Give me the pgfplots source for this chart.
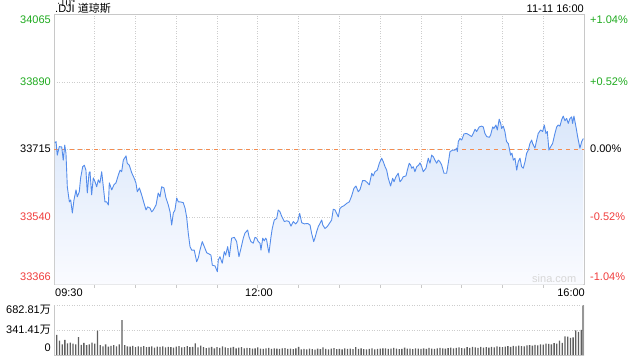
\documentclass[border=0pt]{standalone}
\usepackage{fontspec}
\setmainfont{Liberation Sans}
\newfontfamily\cjk{Noto Sans CJK SC}
\usepackage{pgfplots}
\pgfplotsset{compat=1.18}
\usepackage{pgfplotstable}
\definecolor{lineblue}{RGB}{84,140,235}
\definecolor{fillblue}{RGB}{218,231,250}
\definecolor{fillbot}{RGB}{250,251,255}
\definecolor{gridgray}{RGB}{205,205,205}
\definecolor{framegray}{RGB}{200,200,200}
\definecolor{upgreen}{RGB}{30,170,30}
\definecolor{downred}{RGB}{240,60,60}
\definecolor{refor}{RGB}{245,140,80}
\definecolor{volgray}{RGB}{95,95,95}
\definecolor{wmark}{RGB}{215,215,215}

\pgfplotstableread{
m p
0.7 33733
1.5 33736
2.4 33701
3.9 33723
5.7 33722
6.8 33688
7.9 33727
8.8 33706
9.8 33619
11.3 33580
12.3 33585
13.5 33551
14.7 33585
16.2 33611
17.1 33593
18.6 33606
19.6 33642
21.1 33671
22.3 33675
23.5 33662
24.5 33603
25.8 33655
26.5 33658
27.7 33598
28.9 33642
30.2 33632
31.4 33619
32.6 33637
33.8 33629
35.1 33658
36.3 33619
37.5 33580
38.8 33580
40.0 33572
40.7 33629
42.5 33611
44.1 33624
45.6 33629
47.3 33649
48.6 33662
49.8 33658
51.0 33688
53.0 33699
53.9 33680
55.4 33675
57.2 33655
58.9 33642
60.3 33629
61.3 33606
62.8 33616
64.5 33598
66.2 33577
67.7 33559
68.9 33567
70.6 33564
71.9 33554
73.1 33559
75.1 33572
76.7 33603
78.0 33593
79.2 33619
80.9 33616
82.4 33590
84.1 33572
85.4 33554
86.6 33520
87.8 33551
89.0 33559
90.3 33590
91.5 33580
92.7 33580
95.1 33578
96.4 33564
97.6 33541
98.8 33499
100.1 33464
101.3 33455
103.2 33455
105.0 33425
106.2 33435
107.4 33455
109.1 33477
110.6 33464
112.4 33448
114.1 33445
115.5 33442
116.5 33416
118.5 33414
120.2 33399
120.9 33429
122.1 33438
123.8 33421
125.3 33451
126.3 33442
127.8 33464
129.0 33438
130.7 33486
132.7 33488
134.4 33477
136.1 33438
137.6 33460
139.3 33486
140.5 33499
142.5 33507
143.5 33490
144.9 33477
146.6 33473
147.9 33488
149.1 33486
150.3 33477
151.6 33473
152.3 33455
153.6 33486
154.7 33479
155.8 33486
156.5 33481
157.7 33455
158.2 33448
159.7 33490
160.6 33511
162.1 33533
163.9 33537
165.0 33559
166.3 33554
167.5 33543
169.5 33529
171.2 33531
172.9 33529
174.4 33517
176.1 33529
177.8 33523
179.3 33529
180.8 33550
182.3 33526
184.2 33523
186.7 33524
188.4 33520
189.6 33498
191.1 33477
192.0 33486
193.3 33503
194.5 33516
197.0 33533
197.8 33520
199.4 33511
201.1 33516
202.6 33524
204.3 33533
205.5 33561
206.8 33559
208.0 33550
209.2 33541
210.4 33563
211.7 33567
213.4 33570
215.4 33576
217.3 33580
219.0 33595
220.7 33615
222.2 33621
223.9 33606
225.2 33612
227.1 33635
228.8 33635
230.5 33630
232.0 33624
233.8 33654
234.9 33647
236.2 33658
237.9 33662
239.4 33680
241.1 33693
242.3 33684
243.6 33671
244.8 33662
246.0 33641
247.7 33621
249.2 33641
250.2 33632
251.6 33645
253.3 33654
254.6 33632
255.8 33637
257.0 33645
259.0 33647
260.0 33662
261.4 33680
262.5 33675
263.2 33667
264.4 33671
265.6 33658
266.9 33671
268.3 33675
269.3 33681
270.6 33671
271.7 33658
273.7 33667
275.4 33693
276.7 33680
277.9 33701
279.1 33697
280.3 33688
281.6 33680
282.8 33688
284.0 33684
285.3 33675
287.0 33654
288.9 33654
290.1 33680
291.4 33710
293.4 33714
295.1 33714
296.3 33719
296.8 33710
297.5 33736
298.7 33744
300.0 33740
301.7 33756
303.7 33757
305.6 33753
307.3 33749
308.5 33757
309.8 33768
311.0 33762
312.9 33774
314.7 33776
315.9 33774
317.1 33757
318.4 33749
320.3 33747
321.3 33753
322.8 33774
323.7 33770
325.2 33779
326.2 33766
327.6 33794
328.7 33783
329.4 33770
330.6 33776
331.8 33762
333.0 33736
334.3 33731
335.0 33719
336.0 33701
337.0 33706
338.0 33688
339.2 33693
340.5 33662
341.6 33684
342.9 33693
344.1 33671
345.3 33667
346.6 33684
347.8 33706
349.0 33714
350.2 33731
351.5 33740
352.2 33731
353.9 33719
355.2 33740
356.3 33757
358.1 33766
359.6 33762
360.8 33779
362.0 33757
363.0 33762
364.2 33714
365.5 33723
366.9 33731
368.6 33757
369.9 33774
371.0 33779
372.3 33776
373.5 33792
374.7 33802
376.0 33790
377.2 33796
378.4 33783
379.7 33796
380.9 33800
381.6 33783
382.6 33802
384.1 33774
385.3 33749
387.0 33719
388.3 33736
389.5 33744
}\pricedata

\pgfplotstableread{
m v
2 278
4 200
6 150
8 210
10 165
12 175
14 160
16 150
18 250
20 145
22 170
24 140
26 150
28 175
30 160
32 335
34 140
36 125
38 150
40 120
42 130
44 140
46 125
48 150
50 480
52 140
54 125
56 120
58 130
60 112
62 122
64 118
66 128
68 112
70 118
72 125
74 108
76 120
78 115
80 124
82 110
84 118
86 112
88 108
90 120
92 126
94 110
96 114
98 128
100 112
102 118
104 165
106 110
108 135
110 112
112 100
114 108
116 118
118 96
120 112
122 104
124 122
126 110
128 100
130 106
132 115
134 98
136 108
138 112
140 96
142 104
144 100
146 92
148 98
150 110
152 94
154 88
156 96
158 102
160 90
162 96
164 92
166 88
168 95
170 100
172 88
174 92
176 85
178 96
180 118
182 82
184 88
186 84
188 92
190 86
192 80
194 94
196 86
198 110
200 88
202 84
204 92
206 100
208 86
210 90
212 84
214 96
216 88
218 92
220 86
222 114
224 90
226 98
228 86
230 82
232 90
234 96
236 84
238 88
240 92
242 96
244 98
246 88
248 94
250 102
252 92
254 86
256 90
258 108
260 94
262 92
264 86
266 96
268 92
270 90
272 98
274 88
276 102
278 94
280 90
282 96
284 104
286 98
288 92
290 100
292 108
294 96
296 104
298 110
300 100
302 96
304 112
306 104
308 118
310 110
312 102
314 116
316 108
318 114
320 106
322 118
324 110
326 122
328 116
330 112
332 120
334 126
336 118
338 130
340 124
342 134
344 128
346 122
348 136
350 140
352 132
354 144
356 138
358 150
360 146
362 160
364 156
366 150
368 166
370 160
372 200
374 170
376 260
378 255
380 240
382 245
384 340
386 320
388 345
389.3 682.81
}\voldata

\begin{document}
\begin{tikzpicture}[font=\fontsize{11}{13}\selectfont]
\useasboundingbox (0pt,0pt) rectangle (640pt,360pt);
% ---------- price panel ----------
\begin{axis}[
  at={(54pt,75.5pt)}, anchor=south west, scale only axis,
  width=530pt, height=270pt,
  xmin=0, xmax=390, ymin=33366, ymax=34065,
  axis line style={framegray, line width=0.8pt},
  xtick={30,60,...,360}, xticklabels={},
  ytick={33540,33715,33890}, yticklabels={},
  xtick pos=left, tick align=outside,
  major tick length=3pt,
  xtick style={framegray, line width=0.8pt},
  ytick style={draw=none},
  grid=major,
  grid style={gridgray, line width=0.8pt, dash pattern=on 1pt off 1.5pt},
]
\addplot[draw=none, top color=fillblue, bottom color=fillbot]
  table[x=m, y=p] {\pricedata} -- (axis cs:389.5,33366) -- (axis cs:0.7,33366) -- cycle;
\draw[refor, line width=0.9pt, dash pattern=on 4pt off 4pt] (axis cs:0,33715) -- (axis cs:390,33715);
\addplot[lineblue, line width=0.9pt, line join=round] table[x=m, y=p] {\pricedata};
\end{axis}
% ---------- volume panel ----------
\begin{axis}[
  at={(54pt,4.5pt)}, anchor=south west, scale only axis,
  width=530pt, height=50.5pt,
  xmin=0, xmax=390, ymin=0, ymax=682.81,
  axis line style={draw=none},
  xtick=\empty, ytick={341.41}, yticklabels={},
  ytick style={draw=none},
  ymajorgrids,
  grid style={gridgray, line width=0.8pt, dash pattern=on 1pt off 1.5pt},
]
\addplot[ybar, bar width=1.3pt, fill=volgray, draw=none] table[x=m, y=v] {\voldata};
\draw[gridgray, line width=0.8pt, dash pattern=on 1pt off 1.5pt] (rel axis cs:0,1) -- (rel axis cs:1,1);
\draw[framegray, line width=0.8pt] (rel axis cs:0,1) -- (rel axis cs:0,0) -- (rel axis cs:1,0) -- (rel axis cs:1,1);
\end{axis}
% ---------- texts ----------
\node[anchor=base west, inner sep=0] at (55pt,348pt) {.DJI {\cjk 道琼斯}};
\node[anchor=base east, inner sep=0] at (584pt,348pt) {11-11 16:00};
\node[anchor=east, inner sep=0, text=upgreen] at (51pt,340pt) {34065};
\node[anchor=east, inner sep=0, text=upgreen] at (51pt,278pt) {33890};
\node[anchor=east, inner sep=0] at (51pt,211pt) {33715};
\node[anchor=east, inner sep=0, text=downred] at (51pt,143pt) {33540};
\node[anchor=east, inner sep=0, text=downred] at (51pt,83pt) {33366};
\node[anchor=west, inner sep=0, text=upgreen] at (590pt,340pt) {+1.04\%};
\node[anchor=west, inner sep=0, text=upgreen] at (590pt,278pt) {+0.52\%};
\node[anchor=west, inner sep=0] at (590pt,211pt) {0.00\%};
\node[anchor=west, inner sep=0, text=downred] at (590pt,143pt) {-0.52\%};
\node[anchor=west, inner sep=0, text=downred] at (590pt,83pt) {-1.04\%};
\node[anchor=west, inner sep=0] at (55pt,67pt) {09:30};
\node[inner sep=0] at (259pt,67pt) {12:00};
\node[anchor=east, inner sep=0] at (585pt,67pt) {16:00};
\node[anchor=west, inner sep=0, text=wmark] at (532pt,81pt) {sina.com};
\node[anchor=east, inner sep=0] at (51pt,50pt) {682.81{\cjk 万}};
\node[anchor=east, inner sep=0] at (51pt,30.5pt) {341.41{\cjk 万}};
\node[anchor=east, inner sep=0] at (51pt,12pt) {0};
\end{tikzpicture}
\end{document}
